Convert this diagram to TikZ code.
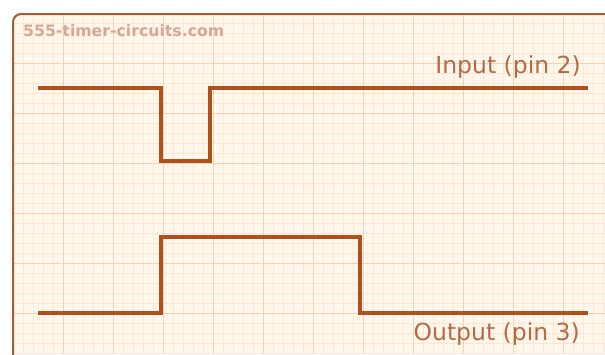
\documentclass[tikz,border=0pt]{standalone}
\usepackage{fontspec}
\setmainfont{DejaVu Sans}
\definecolor{bgc}{HTML}{FFF6EC}
\definecolor{minorc}{HTML}{FDE7D4}
\definecolor{majorc}{HTML}{F4D2B4}
\definecolor{wavec}{HTML}{B0501C}
\definecolor{framec}{HTML}{A05E36}
\definecolor{lblc}{HTML}{B06C48}
\definecolor{wmc}{HTML}{D2AA96}
\begin{document}
\begin{tikzpicture}[x=1pt,y=-1pt,
  minorline/.style={draw=minorc, line width=0.7pt},
  majorline/.style={draw=majorc, line width=1pt},
  wave/.style={draw=wavec, line width=4pt, line join=miter},
  framestyle/.style={draw=framec, line width=2pt, rounded corners=8pt},
  lbl/.style={text=lblc, font=\fontsize{23.5}{28}\selectfont, inner sep=0pt},
  wm/.style={text=wmc, font=\fontsize{15.7}{18}\selectfont\bfseries, inner sep=0pt}]
\useasboundingbox (0,0) rectangle (605,354);
\fill[white] (0,0) rectangle (605,354);
\begin{scope}
  \clip[rounded corners=8pt] (13,370) -- (13,14) -- (620,14) -- (620,370) -- cycle;
  \fill[bgc] (13,14) rectangle (605,354);
  \foreach \i in {0,...,60} \draw[minorline] ({3+10*\i},14) -- ({3+10*\i},354);
  \foreach \j in {0,...,35} \draw[minorline] (13,{3+10*\j}) -- (605,{3+10*\j});
  \foreach \i in {0,...,12} \draw[majorline] ({13+50*\i},14) -- ({13+50*\i},354);
  \foreach \j in {0,...,7} \draw[majorline] (13,{13+50*\j}) -- (605,{13+50*\j});
\end{scope}
\draw[framestyle] (13,370) -- (13,14) -- (620,14);
\node[wm, anchor=base west] (site) at (23,36.5) {555-timer-circuits.com};
% input waveform
\coordinate (i0) at (38,88);
\coordinate (i1) at (161,88);
\coordinate (i2) at (161,161);
\coordinate (i3) at (210,161);
\coordinate (i4) at (210,88);
\coordinate (i5) at (588,88);
\draw[wave] (i0) -- (i1) -- (i2) -- (i3) -- (i4) -- (i5);
% output waveform
\coordinate (o0) at (38,313);
\coordinate (o1) at (161,313);
\coordinate (o2) at (161,237);
\coordinate (o3) at (360,237);
\coordinate (o4) at (360,313);
\coordinate (o5) at (588,313);
\draw[wave] (o0) -- (o1) -- (o2) -- (o3) -- (o4) -- (o5);
\node[lbl, anchor=base east] (inlbl) at (581,73) {Input (pin 2)};
\node[lbl, anchor=base east] (outlbl) at (580,340) {Output (pin 3)};
\end{tikzpicture}
\end{document}
